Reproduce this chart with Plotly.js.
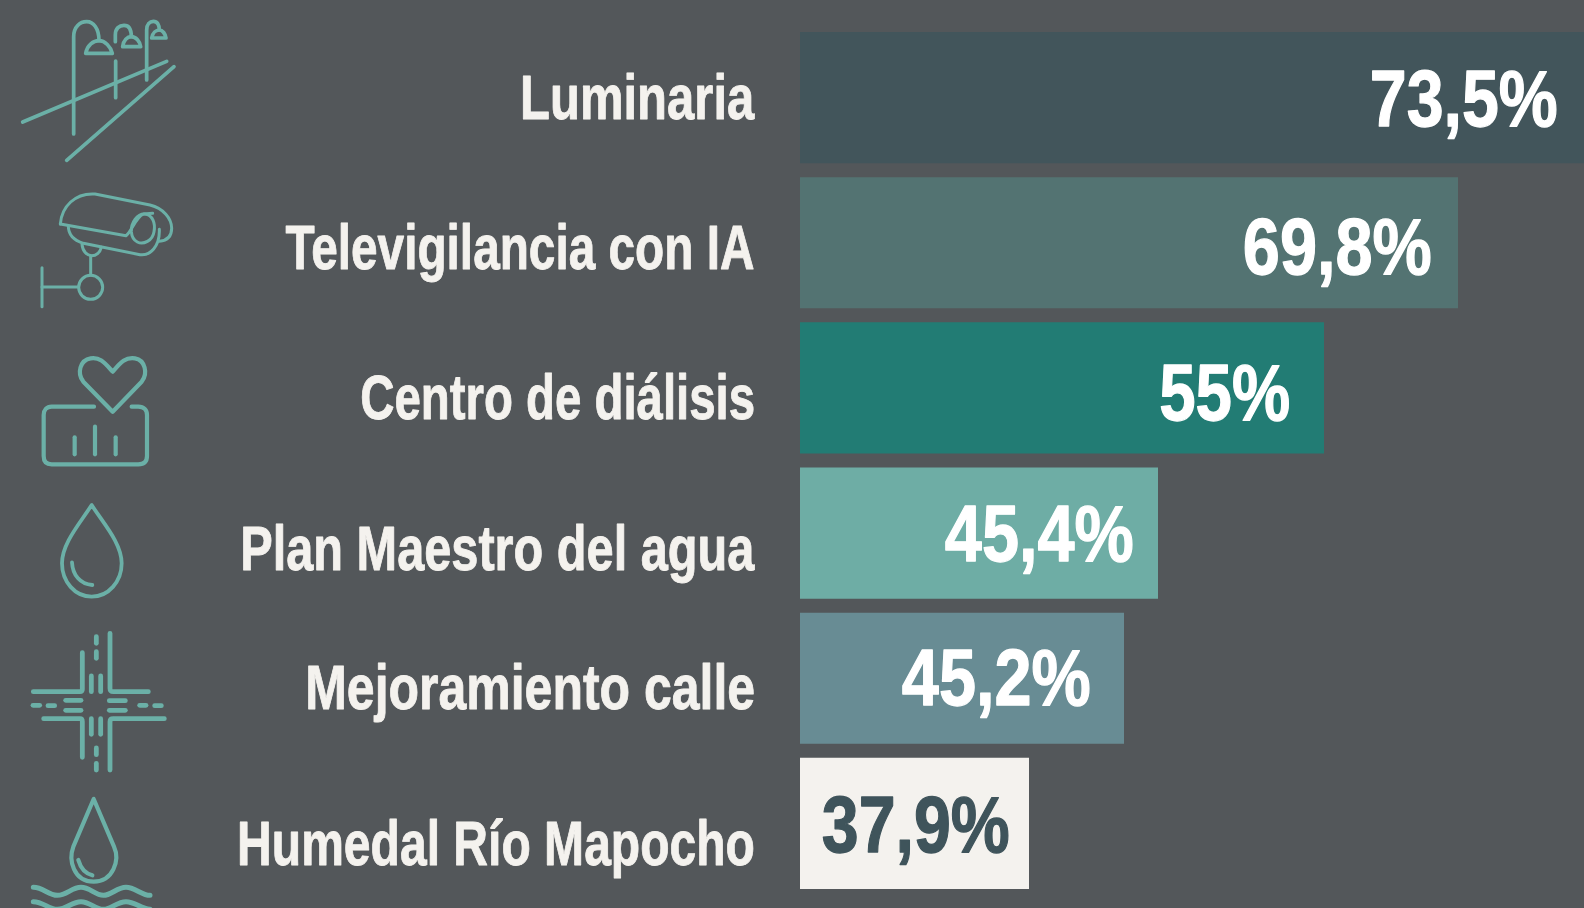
<!DOCTYPE html>
<html><head><meta charset="utf-8">
<script src="https://cdn.plot.ly/plotly-3.0.1.min.js"></script>
<style>
html,body{margin:0;padding:0;background:#53575a;overflow:hidden}
#c{width:1584px;height:908px}
.shapelayer path{stroke-linecap:round;stroke-linejoin:round}
</style></head><body><div id="c"></div>
<script>
// Data
const categories = ["Luminaria","Televigilancia con IA","Centro de diálisis","Plan Maestro del agua","Mejoramiento calle","Humedal Río Mapocho"];
const valueLabels = ["73,5%","69,8%","55%","45,4%","45,2%","37,9%"];
// Drawn bar lengths as they appear in the picture (not proportional to the printed figures)
const barLengths = [784,658,524,358,324,229];
const barColors = ["#42555b","#537372","#227c74","#6eada5","#688c94","#f4f2ee"];
const valueColors = ["#ffffff","#ffffff","#ffffff","#ffffff","#ffffff","#3f545b"];

// Text placement
const labelY = [97,247,397,548,687,842.5];
const labelWidths = [235,469,395,515,450,518];
const valueWidths = [188,189,131,189,189,188];
const valueShiftX = [-24,-24,-32,-22,-31,-17];
const valueShiftY = [-1,-4,-5,0,1,-1];

const FONT = "'Liberation Sans','Arial',sans-serif";
const TEAL = "#6bb0a7";

function icon(ox, oy, d){
  let i = 0;
  return d.replace(/-?\d+(\.\d+)?/g, n => {
    const v = parseFloat(n)/3 + (i++ % 2 === 0 ? ox : oy);
    return v.toFixed(2);
  });
}
function ic(oy, w, paths){
  return paths.map(p => ({type:'path', xref:'x2', yref:'y2', layer:'above',
    path:icon(0,oy,p), line:{color:TEAL,width:w}, fillcolor:'rgba(0,0,0,0)'}));
}
function circle(cx,cy,r){
  const k=r*0.5523;
  return `M${cx-r},${cy} C${cx-r},${cy-k} ${cx-k},${cy-r} ${cx},${cy-r} C${cx+k},${cy-r} ${cx+r},${cy-k} ${cx+r},${cy} C${cx+r},${cy+k} ${cx+k},${cy+r} ${cx},${cy+r} C${cx-k},${cy+r} ${cx-r},${cy+k} ${cx-r},${cy} Z`;
}
const shapes = [].concat(
  ic(0,3.7,[
    "M221,402 L221,110 C221,80 240,65 260,65 C280,65 297,85 297,122",
    "M257,160 C262,135 280,122 297,122 C315,122 332,140 337,160 Z",
    "M347,183 L347,293","M68,366 L500,184","M200,481 L522,200",
    "M346,125 L346,105 C346,85 358,76 372,76 C388,76 394,90 394,110",
    "M368,140 C370,120 382,110 394,110 C408,110 420,125 422,140 Z",
    "M440,240 L440,90 C440,72 450,64 460,64 C472,64 478,75 478,90",
    "M455,114 C458,98 468,90 478,90 C488,90 496,102 498,114 Z"
  ]),
  ic(0,3.0,[
    "M181,672 C185,620 225,578 285,582 L450,615 C490,625 515,655 515,685 C515,710 500,722 478,724",
    "M181,672 L378,707 C395,695 405,655 430,642 L458,640",
    "M394,695 C393,668 412,640 435,642 C458,645 467,670 462,695 C458,722 430,735 412,726 C400,720 395,708 394,695 Z",
    "M205,678 C205,705 225,722 250,730 L420,764 C450,768 480,740 478,688",
    "M246,733 C248,755 262,767 275,767 C288,767 300,758 304,742",
    "M272,767 L272,825", circle(272,862,36),
    "M126,861 L236,861","M126,803 L126,920"
  ]),
  ic(330,4.2,[
    "M338,245 L250,155 C230,130 240,90 272,85 C300,80 315,100 338,125 C360,100 375,80 405,85 C435,90 445,130 425,155 Z",
    "M282,230 L155,230 C140,230 131,240 131,255 L131,378 C131,395 140,403 155,403 L415,403 C432,403 441,395 441,378 L441,255 C441,240 432,230 415,230 L395,230",
    "M224,322 L224,373","M285,290 L285,373","M347,322 L347,373"
  ]),
  ic(330,3.8,[
    "M275,525 C240,580 186,640 186,700 C186,755 225,800 275,800 C325,800 365,755 365,700 C365,640 310,580 275,525 Z",
    "M216,697 C218,735 240,762 277,765"
  ]),
  ic(620,4.8,[
    "M100,215 L240,215 C245,215 247,213 247,208 L247,98",
    "M330,40 L330,205 C330,213 333,215 340,215 L445,215",
    "M131,296 L240,296 C245,296 247,300 247,305 L247,412",
    "M330,450 L330,305 C330,298 333,296 340,296 L493,296",
    "M274,168 L274,215","M302,168 L302,215","M274,296 L274,343","M302,296 L302,343",
    "M289,50 L289,70","M289,95 L289,115","M289,384 L289,404","M289,430 L289,450",
    "M197,241 L243,241","M197,271 L243,271","M328,242 L376,242","M328,271 L376,271",
    "M99,256 L119,256","M144,257 L164,257","M419,256 L438,256","M464,257 L484,257"
  ]),
  ic(620,4.2,[
    "M281,537 L220,680 C205,720 220,785 281,785 C340,785 360,720 342,680 Z",
    "M235,720 C242,745 255,760 277,766"
  ]),
  ic(620,5,[
    "M100,802 C130,802 145,826 172,826 C200,826 215,802 243,802 C270,802 285,826 310,826 C335,826 350,802 378,802 C405,802 425,826 450,826",
    "M100,845 C130,845 145,868 172,868 C200,868 215,845 243,845 C270,845 285,868 310,868 C335,868 350,845 378,845 C405,845 425,868 450,868"
  ])
);

const annotations = [];
categories.forEach((c,i)=>annotations.push({
  text:c, xref:'x2', yref:'y2', x:757, y:labelY[i], xanchor:'right', yanchor:'middle',
  showarrow:false, font:{family:FONT,size:63,color:'#f4f2ee',weight:700}
}));
valueLabels.forEach((v,i)=>annotations.push({
  text:v, xref:'x', yref:'y', x:barLengths[i], y:categories[i], xanchor:'right', yanchor:'middle',
  xshift:valueShiftX[i], yshift:valueShiftY[i], showarrow:false,
  font:{family:FONT,size:80,color:valueColors[i],weight:700}
}));

const trace = {type:'bar', orientation:'h', y:categories, x:barLengths,
  marker:{color:barColors,line:{width:0}}, hoverinfo:'skip', textposition:'none'};

const figH=908, figW=1584, plotTop=25, plotBottom=896;
Plotly.newPlot('c',[trace],{
  width:figW,height:figH,margin:{l:0,r:0,t:0,b:0,pad:0},
  paper_bgcolor:'#53575a',plot_bgcolor:'rgba(0,0,0,0)',showlegend:false,
  bargap:14/145.2,
  xaxis:{domain:[800/figW,1],range:[0,784],visible:false,fixedrange:true},
  yaxis:{domain:[1-plotBottom/figH,1-plotTop/figH],type:'category',categoryorder:'array',categoryarray:categories,
    autorange:false,range:[5.5,-0.5],visible:false,fixedrange:true},
  xaxis2:{domain:[0,1],range:[0,figW],visible:false,anchor:'y2',fixedrange:true},
  yaxis2:{domain:[0,1],range:[figH,0],visible:false,anchor:'x2',fixedrange:true},
  shapes, annotations
},{displayModeBar:false,staticPlot:true}).then(()=>{
  // The reference type is condensed and heavy: squeeze each text to its measured width, keeping its right edge
  const widths = labelWidths.concat(valueWidths);
  document.querySelectorAll('#c .annotation-text').forEach((t,i)=>{
    const b = t.getBBox();
    const s = widths[i]/b.width;
    const right = b.x+b.width;
    t.setAttribute('transform',`translate(${right*(1-s)},0) scale(${s},1)`);
    t.style.stroke = t.style.fill;
    t.style.strokeWidth = i < labelWidths.length ? '0.9px' : '1.3px';
    t.style.strokeLinejoin = 'round';
  });
});
</script></body></html>
